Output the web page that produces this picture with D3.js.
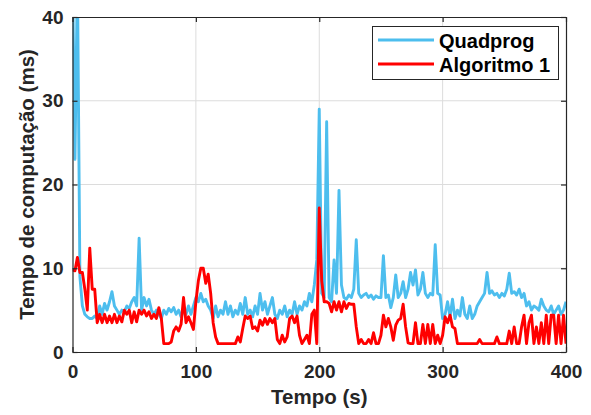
<!DOCTYPE html>
<html>
<head>
<meta charset="utf-8">
<script src="https://cdn.jsdelivr.net/npm/d3@7"></script>
<style>
  body { margin: 0; background: #fff; }
  svg text { font-family: "Liberation Sans", Arial, sans-serif; font-weight: bold; }
</style>
</head>
<body>
<svg width="591" height="415"></svg>
<script>
// time samples (s), 2 s apart
const times = d3.range(0, 401, 2);

const quadprog = [
  45, 23, 45, 9, 5.5, 4.5, 4.2, 4.0, 4.0, 4.3,
  4.0, 5.5, 4.5, 5.8, 5.0, 6.0, 7.2, 5.5, 5.0, 4.5,
  5.0, 4.8, 5.5, 5.2, 6.0, 6.5, 5.5, 13.6, 5.0, 6.5,
  5.5, 6.3, 5.0, 4.5, 5.0, 4.5, 4.0, 5.0, 4.5, 5.2,
  4.8, 5.3, 4.5, 5.0, 4.2, 5.0, 4.5, 5.5, 4.5, 5.5,
  6.5, 6.0, 7.0, 6.0, 6.3, 5.5, 5.0, 4.0, 5.5, 4.2,
  5.0, 4.5, 6.0, 4.5, 5.5, 4.2, 5.0, 4.5, 5.8, 4.5,
  6.5, 4.5, 5.0, 4.2, 5.5, 4.5, 7.0, 5.0, 6.0, 4.5,
  5.5, 6.5, 4.5, 4.0, 5.0, 4.5, 5.5, 4.2, 5.0, 4.5,
  6.0, 4.5, 5.5, 5.0, 6.0, 5.5, 7.0, 6.0, 8.0, 11.0,
  29.0, 7.0, 6.5, 27.5, 6.5, 6.0, 11.0, 7.0, 19.3, 8.0,
  6.5, 6.3, 6.8, 6.5, 7.5, 13.4, 7.0, 6.5, 6.8, 7.0,
  6.5, 6.8, 6.3, 6.7, 6.5, 6.5, 11.5, 6.5, 6.8, 5.3,
  6.5, 9.2, 6.5, 7.0, 8.4, 6.5, 7.5, 9.5, 8.0, 9.8,
  6.8, 7.5, 9.5, 7.0, 6.5, 7.0, 6.8, 12.8, 7.0, 6.8,
  4.0, 4.5, 6.0, 4.2, 6.3, 4.0, 5.0, 4.3, 6.5, 4.5,
  4.0, 5.5, 4.0, 4.5, 5.5, 6.0, 6.5, 7.0, 9.5, 7.0,
  7.3, 6.8, 7.0, 6.5, 7.0, 6.7, 7.5, 9.4, 7.0, 7.2,
  6.8, 7.5, 6.5, 7.0, 5.5, 6.0, 5.0, 5.5, 5.3, 5.0,
  6.3, 5.5, 5.0, 4.8, 5.5, 4.5, 5.0, 5.5, 4.5, 5.0,
  6.0
];

const algoritmo1 = [
  9.8, 9.7, 11.3, 9.5, 9.5, 7.5, 5.0, 12.4, 7.5, 7.5,
  3.5, 4.5, 3.5, 4.5, 3.5, 4.3, 3.5, 4.5, 3.5, 4.3,
  3.6, 5.0, 4.5, 5.0, 3.5, 4.8, 3.6, 5.0, 4.5, 5.0,
  4.3, 4.8, 4.0, 4.5, 4.0, 5.3, 4.0, 1.0, 1.0, 1.0,
  1.2, 2.5, 3.0, 2.5, 3.3, 6.5, 3.5, 4.2, 3.5, 2.7,
  6.0, 8.5, 10.0, 10.0, 8.2, 9.3, 7.0, 3.5, 1.8, 1.0,
  1.0, 1.0, 1.0, 1.0, 1.0, 1.0, 1.0, 1.8, 1.2, 2.8,
  4.3, 4.0, 4.3, 2.8, 3.0, 2.5, 3.8, 3.2, 4.0, 3.3,
  4.0, 3.5, 4.0, 1.5, 1.0, 2.0, 1.2, 1.8, 4.0, 4.3,
  3.5, 4.3, 2.0, 1.0, 1.5, 2.0, 1.0, 4.5, 5.0, 1.0,
  17.2, 8.5, 6.0, 6.0, 5.8, 4.8, 6.0, 5.0, 6.0, 4.8,
  6.0, 5.2, 5.8, 5.7, 5.7, 3.0, 1.0, 1.5, 1.0, 1.0,
  1.5, 1.0, 2.3, 1.0, 1.0, 2.0, 4.4, 3.0, 4.0, 3.0,
  1.4, 3.2, 3.8, 4.0, 5.7, 3.0, 1.1, 1.0, 1.0, 3.5,
  1.0, 1.0, 3.3, 1.0, 3.3, 1.0, 3.3, 1.0, 2.0, 1.0,
  2.0, 4.2, 3.5, 4.4, 3.0, 2.8, 1.0, 1.0, 1.0, 1.0,
  1.0, 1.0, 1.0, 1.0, 1.0, 1.5, 1.0, 1.0, 1.0, 1.0,
  1.0, 1.0, 1.8, 1.0, 1.0, 1.0, 1.0, 2.5, 1.0, 3.0,
  1.0, 1.0, 3.0, 4.4, 1.0, 3.5, 4.4, 1.0, 3.0, 1.0,
  3.5, 1.0, 4.4, 1.0, 4.4, 4.4, 1.0, 4.4, 1.0, 4.4,
  1.0
];

const xTicks = [0, 100, 200, 300, 400];
const yTicks = [0, 10, 20, 30, 40];
const seriesNames = ["Quadprog", "Algoritmo 1"];
const seriesColors = ["#4DBEEE", "#FF0000"];

const svg = d3.select("svg");
const mLeft = 72.5, mRight = 566, mTop = 17, mBottom = 352;
const axisColor = "#262626";

const x = d3.scaleLinear().domain([0, 400]).range([mLeft, mRight]);
const y = d3.scaleLinear().domain([0, 40]).range([mBottom, mTop]);

// grid
svg.append("g")
  .selectAll("line")
  .data(xTicks.slice(1, -1))
  .join("line")
  .attr("x1", d => x(d)).attr("x2", d => x(d))
  .attr("y1", mTop).attr("y2", mBottom)
  .attr("stroke", "#dcdcdc").attr("stroke-width", 1);
svg.append("g")
  .selectAll("line")
  .data(yTicks.slice(1, -1))
  .join("line")
  .attr("x1", mLeft).attr("x2", mRight)
  .attr("y1", d => y(d)).attr("y2", d => y(d))
  .attr("stroke", "#dcdcdc").attr("stroke-width", 1);

// clip
svg.append("clipPath").attr("id", "clip")
  .append("rect")
  .attr("x", mLeft).attr("y", mTop)
  .attr("width", mRight - mLeft).attr("height", mBottom - mTop);

const line = d3.line()
  .x((d, i) => x(times[i]))
  .y(d => y(d));

[quadprog, algoritmo1].forEach((vals, k) => {
  svg.append("path")
    .datum(vals)
    .attr("clip-path", "url(#clip)")
    .attr("fill", "none")
    .attr("stroke", seriesColors[k])
    .attr("stroke-width", 2.9)
    .attr("stroke-linejoin", "round")
    .attr("d", line);
});

// axes (box with inward ticks)
svg.append("g")
  .attr("transform", "translate(0," + mBottom + ")")
  .call(d3.axisBottom(x).tickValues(xTicks).tickSizeInner(-5).tickSizeOuter(0).tickPadding(13));
svg.append("g")
  .attr("transform", "translate(" + mLeft + ",0)")
  .call(d3.axisLeft(y).tickValues(yTicks).tickSizeInner(-5).tickSizeOuter(0).tickPadding(9));
svg.append("g")
  .attr("transform", "translate(0," + mTop + ")")
  .call(d3.axisTop(x).tickValues(xTicks).tickSizeInner(-5).tickSizeOuter(0).tickFormat(""));
svg.append("g")
  .attr("transform", "translate(" + mRight + ",0)")
  .call(d3.axisRight(y).tickValues(yTicks).tickSizeInner(-5).tickSizeOuter(0).tickFormat(""));

svg.selectAll(".domain").attr("stroke", axisColor).attr("stroke-width", 1.2);
svg.selectAll(".tick line").attr("stroke", axisColor).attr("stroke-width", 1.2);
svg.selectAll(".tick text")
  .attr("fill", axisColor)
  .style("font-size", "19px");

// axis labels
svg.append("text")
  .attr("x", (mLeft + mRight) / 2).attr("y", 404)
  .attr("text-anchor", "middle")
  .attr("fill", axisColor)
  .style("font-size", "20.5px")
  .text("Tempo (s)");
svg.append("text")
  .attr("transform", "translate(34," + (mTop + mBottom) / 2 + ") rotate(-90)")
  .attr("text-anchor", "middle")
  .attr("fill", axisColor)
  .style("font-size", "20.5px")
  .text("Tempo de computação (ms)");

// legend
const lg = svg.append("g");
lg.append("rect")
  .attr("x", 372.5).attr("y", 26.5).attr("width", 186).attr("height", 53)
  .attr("fill", "#fff").attr("stroke", axisColor).attr("stroke-width", 1);
seriesNames.forEach((name, k) => {
  const yy = 40 + k * 24;
  lg.append("line")
    .attr("x1", 378).attr("x2", 434)
    .attr("y1", yy).attr("y2", yy)
    .attr("stroke", seriesColors[k]).attr("stroke-width", 2.9);
  lg.append("text")
    .attr("x", 439).attr("y", yy + 7.5)
    .attr("fill", "#000")
    .style("font-size", "20px")
    .text(name);
});
</script>
</body>
</html>
